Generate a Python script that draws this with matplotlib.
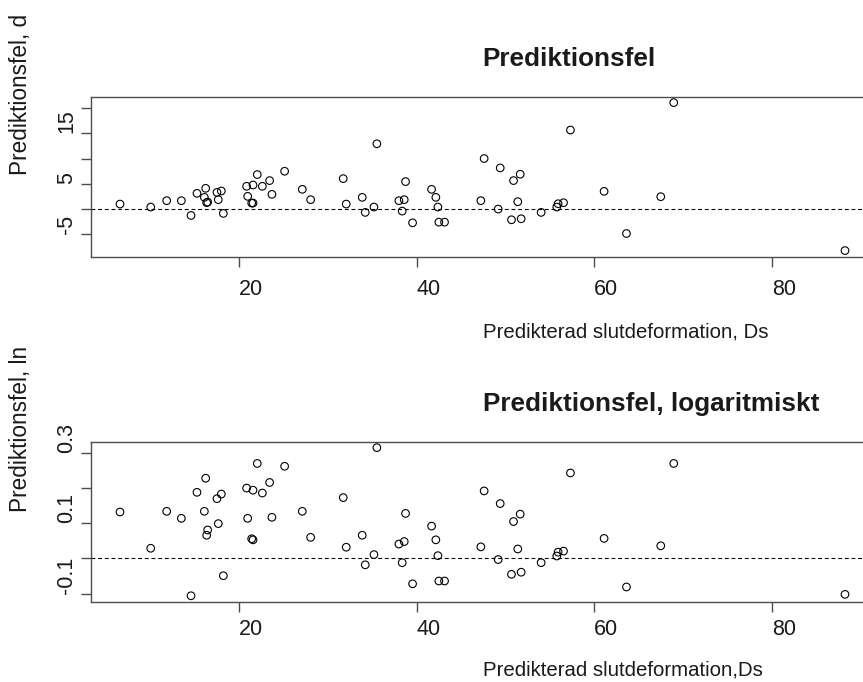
import matplotlib
matplotlib.use("Agg")
import matplotlib.pyplot as plt
import numpy as np

# Predicted final deformation Ds and the corresponding prediction errors
ds_pred = [6.58, 10.04, 11.84, 13.49, 14.58, 15.25, 16.08, 16.23, 16.34, 16.45,
           17.50, 17.65, 17.99, 18.22, 20.84, 20.96, 21.41, 21.56, 21.56, 22.04,
           22.61, 23.43, 23.69, 25.12, 27.11, 28.05, 31.72, 32.06, 33.86, 34.20,
           35.18, 35.51, 37.99, 38.36, 38.59, 38.74, 39.53, 41.67, 42.15, 42.38,
           42.49, 43.13, 47.22, 47.59, 49.17, 49.40, 50.67, 50.90, 51.38, 51.65,
           51.76, 54.01, 55.77, 55.92, 56.53, 57.31, 61.10, 63.62, 67.48, 68.94,
           88.23]

err_d = [0.99, 0.40, 1.66, 1.66, -1.26, 3.12, 2.32, 4.11, 1.26, 1.39,
         3.31, 1.86, 3.58, -0.86, 4.51, 2.52, 1.19, 4.77, 1.19, 6.83,
         4.51, 5.64, 2.92, 7.49, 3.91, 1.86, 6.03, 0.99, 2.32, -0.66,
         0.40, 12.93, 1.66, -0.40, 1.86, 5.44, -2.72, 3.91, 2.32, 0.40,
         -2.59, -2.59, 1.66, 10.01, 0.00, 8.15, -2.12, 5.64, 1.46, 6.90,
         -1.92, -0.66, 0.40, 1.06, 1.26, 15.65, 3.51, -4.84, 2.45, 21.08,
         -8.22]

err_ln = [0.132, 0.029, 0.134, 0.114, -0.106, 0.188, 0.134, 0.228, 0.066, 0.081,
          0.170, 0.099, 0.183, -0.049, 0.200, 0.114, 0.056, 0.194, 0.053, 0.270,
          0.186, 0.216, 0.117, 0.262, 0.134, 0.060, 0.173, 0.032, 0.066, -0.018,
          0.011, 0.315, 0.041, -0.012, 0.048, 0.128, -0.072, 0.092, 0.053, 0.008,
          -0.064, -0.064, 0.033, 0.192, -0.003, 0.156, -0.045, 0.105, 0.027, 0.126,
          -0.039, -0.012, 0.007, 0.018, 0.021, 0.243, 0.057, -0.081, 0.036, 0.270,
          -0.102]

x_ticks = [20, 40, 60, 80]
d_ticks = [-5, 0, 5, 10, 15, 20]
d_ticklabels = ["-5", "", "5", "", "15", ""]
ln_ticks = [-0.1, 0.0, 0.1, 0.2, 0.3]
ln_ticklabels = ["-0.1", "", "0.1", "", "0.3"]

titles = ["Prediktionsfel", "Prediktionsfel, logaritmiskt"]
ylabels = ["Prediktionsfel, d", "Prediktionsfel, ln"]
xlabels = ["Predikterad slutdeformation, Ds", "Predikterad slutdeformation,Ds"]

plt.rcParams["font.family"] = ["Liberation Sans", "DejaVu Sans"]

W, H = 863, 682
fig = plt.figure(figsize=(W / 100, H / 100), dpi=100)
fig.patch.set_facecolor("white")

TXT = "#1a1a1a"
AXC = "#4d4d4d"
FS_TICK = 15.5
FS_XLAB = 14.7
FS_YLAB = 16.3
FS_T = 18.8


def axes_px(left, top, right, bottom):
    return fig.add_axes([left / W, 1 - bottom / H, (right - left) / W, (bottom - top) / H])


def r_range(v):
    lo, hi = min(v), max(v)
    pad = 0.04 * (hi - lo)
    return lo - pad, hi + pad


def fig_text(x, y, s, **kw):
    fig.text(x / W, 1 - y / H, s, color=TXT, **kw)


panels = [
    dict(box=(91, 96.7, 874, 256.5), y=err_d, yt=d_ticks, ytl=d_ticklabels,
         xpad=9, xlab_y=338, ylab_y=175),
    dict(box=(91, 441.7, 874, 601.7), y=err_ln, yt=ln_ticks, ytl=ln_ticklabels,
         xpad=5.5, xlab_y=675, ylab_y=512),
]

for i, p in enumerate(panels):
    ax = axes_px(*p["box"])
    ax.scatter(ds_pred, p["y"], s=30, facecolors="none", edgecolors="black",
               linewidths=0.8, zorder=3)
    ax.axhline(0, color="black", lw=0.8, ls=(0, (3.5, 2.5)), zorder=2)
    ax.set_xlim(*r_range(ds_pred))
    ax.set_ylim(*r_range(p["y"]))

    for sp in ax.spines.values():
        sp.set_color(AXC)
        sp.set_linewidth(1.0)

    ax.set_xticks(x_ticks)
    ax.set_xticklabels([str(t) for t in x_ticks])
    ax.set_yticks(p["yt"])
    ax.set_yticklabels(p["ytl"])
    ax.tick_params(axis="both", direction="out", length=7, width=1.0, color=AXC,
                   labelsize=FS_TICK, labelcolor=TXT)
    ax.tick_params(axis="x", pad=p["xpad"])
    ax.tick_params(axis="y", pad=3)
    for lab in ax.get_xticklabels():
        lab.set_horizontalalignment("left")
    for lab in ax.get_yticklabels():
        lab.set_rotation(90)
        lab.set_verticalalignment("bottom")
        lab.set_horizontalalignment("right")

    left, top, right, bottom = p["box"]
    mid_x = (left + right) / 2
    fig_text(mid_x, top - 30.5, titles[i], fontsize=FS_T, fontweight="bold",
             ha="left", va="baseline")
    fig_text(mid_x, p["xlab_y"], xlabels[i], fontsize=FS_XLAB, ha="left",
             va="baseline")
    fig_text(27, p["ylab_y"], ylabels[i], fontsize=FS_YLAB, rotation=90, ha="left",
             va="baseline", rotation_mode="anchor")

fig.savefig("out.png", dpi=100, facecolor="white")
